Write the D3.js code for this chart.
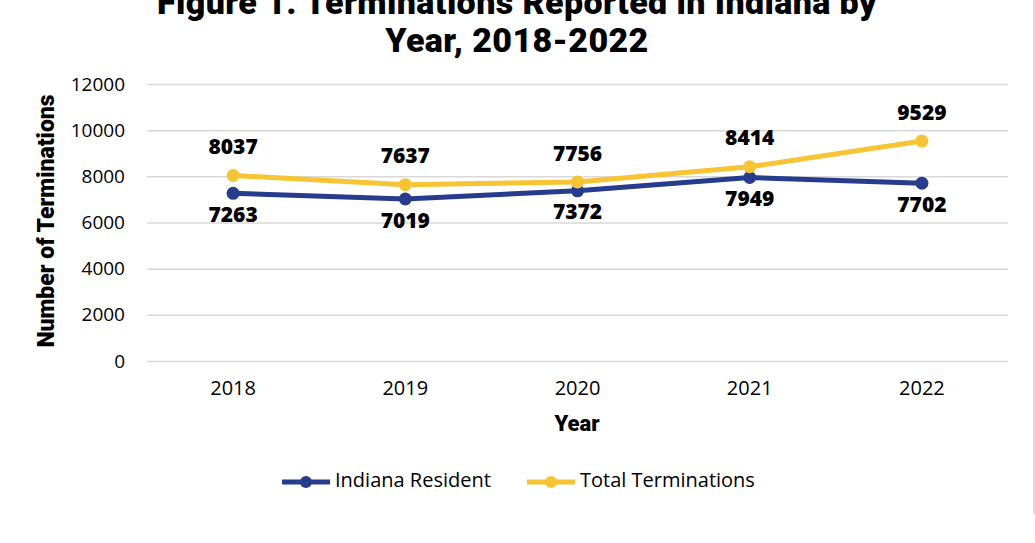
<!DOCTYPE html>
<html>
<head>
<meta charset="utf-8">
<script src="https://cdn.jsdelivr.net/npm/d3@7"></script>
<style>
  body { margin: 0; background: #fff; }
  svg text { fill: #000; }
</style>
</head>
<body>
<svg id="svg"></svg>
<script>
// data
let years = ["2018", "2019", "2020", "2021", "2022"];
let indianaResident = [7263, 7019, 7372, 7949, 7702];
let totalTerminations = [8037, 7637, 7756, 8414, 9529];
let yTicks = [0, 2000, 4000, 6000, 8000, 10000, 12000];
let seriesNames = ["Indiana Resident", "Total Terminations"];

let width = 1035;
let height = 543;
let plotLeft = 147, plotRight = 1008, plotTop = 84, plotBottom = 361;

let navy = "#283c8e";
let gold = "#f7c533";

let svg = d3.select("#svg").attr("width", width).attr("height", height);

let xScale = d3.scaleBand().domain(years).range([plotLeft, plotRight]);
let yScale = d3.scaleLinear().domain([0, 12000]).range([plotBottom, plotTop]);

// border on the right
svg.append("line")
  .attr("x1", 1034).attr("x2", 1034).attr("y1", 0).attr("y2", 514)
  .attr("stroke", "#d0d0d0").attr("stroke-width", 1.5);

// title
let title = svg.append("text")
  .attr("text-anchor", "middle")
  .style("font-family", "Roboto, 'Liberation Sans', sans-serif")
  .style("font-weight", 900)
  .style("font-size", "34px")
  .style("letter-spacing", "0.4px");
title.append("tspan").attr("x", 517).attr("y", 14).text("Figure 1. Terminations Reported in Indiana by");
title.append("tspan").attr("x", 517).attr("y", 52).text("Year, 2018-2022");

// grid + y axis
let yAxis = d3.axisLeft(yScale).tickValues(yTicks).tickSize(-(plotRight - plotLeft)).tickPadding(22).tickFormat(d3.format("d"));
let gy = svg.append("g").attr("transform", "translate(" + plotLeft + ",0)").call(yAxis);
gy.select(".domain").remove();
gy.selectAll(".tick line").attr("stroke", "#d9d9d9").attr("stroke-width", 1.5);
gy.selectAll(".tick text")
  .style("font-family", "'Open Sans', sans-serif")
  .style("font-size", "19px")
  .attr("fill", "#111");

// x axis
let xAxis = d3.axisBottom(xScale).tickSize(0).tickPadding(20);
let gx = svg.append("g").attr("transform", "translate(0," + plotBottom + ")").call(xAxis);
gx.select(".domain").remove();
gx.selectAll(".tick text")
  .style("font-family", "'Open Sans', sans-serif")
  .style("font-size", "20px")
  .attr("fill", "#111");

// axis titles
svg.append("text")
  .attr("transform", "translate(54,221) rotate(-90)")
  .attr("text-anchor", "middle")
  .style("font-family", "Roboto, sans-serif")
  .style("font-weight", 900)
  .style("font-size", "23px")
  .text("Number of Terminations");

svg.append("text")
  .attr("x", 577).attr("y", 431)
  .attr("text-anchor", "middle")
  .style("font-family", "Roboto, sans-serif")
  .style("font-weight", 900)
  .style("font-size", "22px")
  .text("Year");

// series
let cx = (d, i) => xScale(years[i]) + xScale.bandwidth() / 2;
let line = d3.line().x(cx).y((d) => yScale(d));

let series = [
  { name: seriesNames[0], values: indianaResident, color: navy, dy: 23 },
  { name: seriesNames[1], values: totalTerminations, color: gold, dy: -27 }
];

series.forEach((s) => {
  svg.append("path")
    .attr("d", line(s.values))
    .attr("fill", "none")
    .attr("stroke", s.color)
    .attr("stroke-width", 5)
    .attr("stroke-linejoin", "round");
  svg.selectAll(null)
    .data(s.values)
    .enter()
    .append("circle")
    .attr("cx", cx)
    .attr("cy", (d) => yScale(d))
    .attr("r", 6.5)
    .attr("fill", s.color);
  svg.selectAll(null)
    .data(s.values)
    .enter()
    .append("text")
    .attr("x", cx)
    .attr("y", (d) => yScale(d) + s.dy)
    .attr("text-anchor", "middle")
    .attr("dominant-baseline", "middle")
    .style("font-family", "'Open Sans', sans-serif")
    .style("font-weight", 800)
    .style("font-size", "21px")
    .text((d) => d);
});

// legend
let legendX = [282, 527];
series.forEach((s, i) => {
  let g = svg.append("g").attr("transform", "translate(" + legendX[i] + ",482)");
  g.append("line").attr("x1", 0).attr("x2", 48).attr("stroke", s.color).attr("stroke-width", 5);
  g.append("circle").attr("cx", 24).attr("r", 6).attr("fill", s.color);
  g.append("text")
    .attr("x", 53).attr("y", 0)
    .attr("dominant-baseline", "middle")
    .style("font-family", "'Open Sans', sans-serif")
    .style("font-size", "20px")
    .attr("fill", "#111")
    .text(s.name);
});
</script>
</body>
</html>
